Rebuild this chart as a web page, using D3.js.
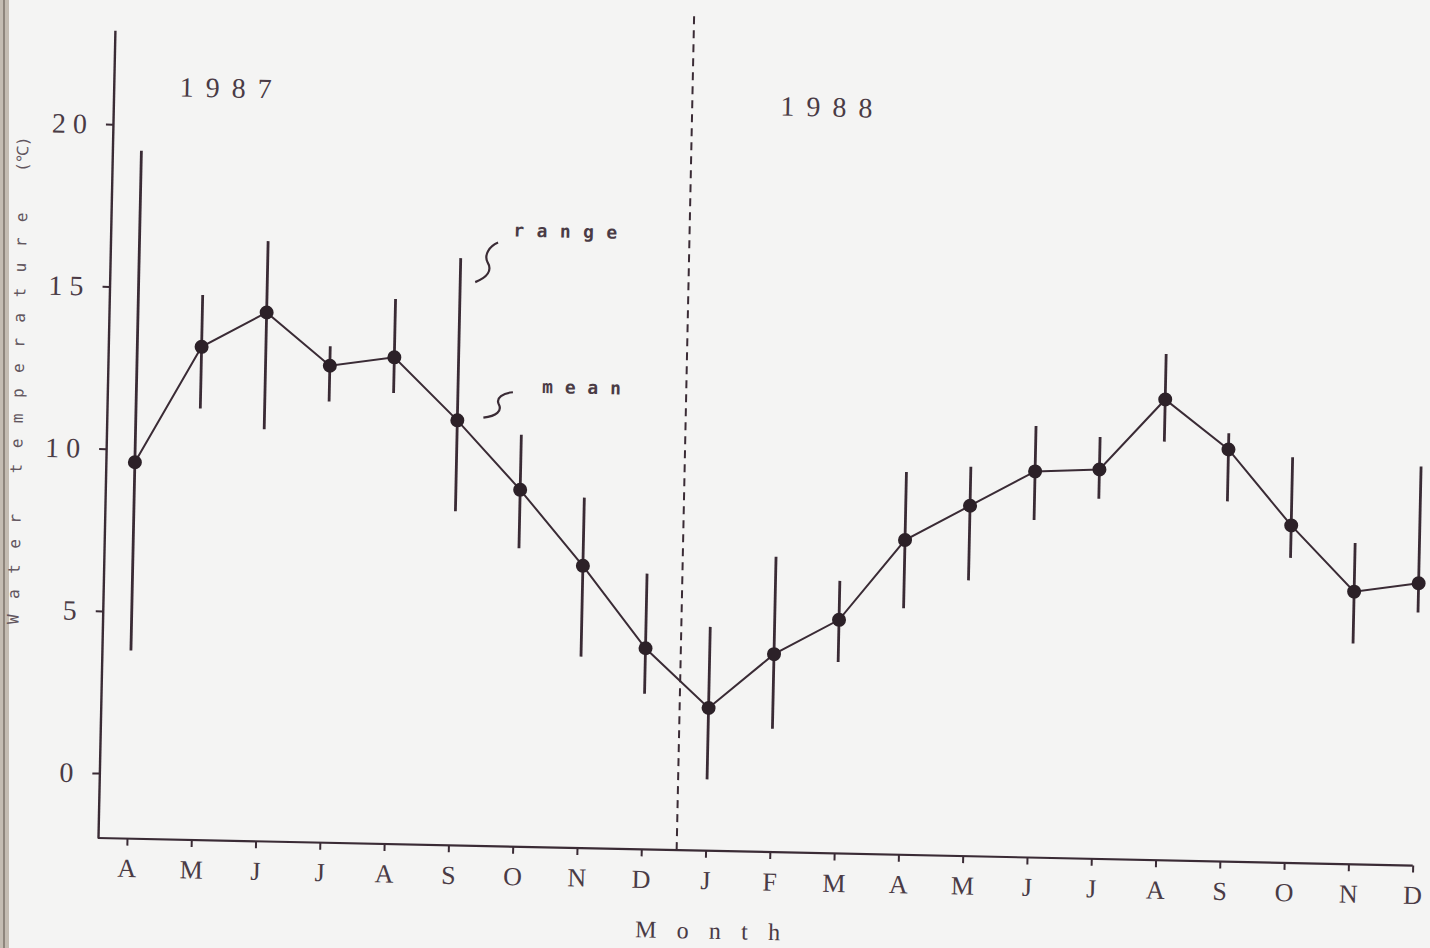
<!DOCTYPE html>
<html>
<head>
<meta charset="utf-8">
<script src="https://cdn.jsdelivr.net/npm/d3@7"></script>
<style>
  body { margin: 0; background: #f4f4f3; }
  svg { display: block; }
</style>
</head>
<body>
<script>

// months, April 1987 .. December 1988
var months = ["A","M","J","J","A","S","O","N","D","J","F","M","A","M","J","J","A","S","O","N","D"];

// monthly water temperature (deg C)
var means = [9.6, 13.2, 14.3, 12.7, 13.0, 11.1, 9.0, 6.7, 4.2, 2.4, 4.1, 5.2, 7.7, 8.8, 9.9, 10.0, 12.2, 10.7, 8.4, 6.4, 6.7];
var maxs  = [19.2, 14.8, 16.5, 13.3, 14.8, 16.1, 10.7, 8.8, 6.5, 4.9, 7.1, 6.4, 9.8, 10.0, 11.3, 11.0, 13.6, 11.2, 10.5, 7.9, 10.3];
var mins  = [3.8, 11.3, 10.7, 11.6, 11.9, 8.3, 7.2, 3.9, 2.8, 0.2, 1.8, 3.9, 5.6, 6.5, 8.4, 9.1, 10.9, 9.1, 7.4, 4.8, 5.8];

var yTicks = [0, 5, 10, 15, 20];
var years = ["1987", "1988"];

var ink = "#3a2b35";
var textInk = "#4a3b45";

var svg = d3.select("body").append("svg")
	.attr("width", 1430)
	.attr("height", 948);

svg.append("rect").attr("width", 1430).attr("height", 948).attr("fill", "#f4f4f3");

// scanned page edge on the left
svg.append("rect").attr("x", 0).attr("y", 0).attr("width", 9).attr("height", 948).attr("fill", "#c4bcb2");
svg.append("line").attr("x1", 4).attr("x2", 4).attr("y1", 0).attr("y2", 948)
	.attr("stroke", "#8e857c").attr("stroke-width", 2);

// the scan is tilted a bit, so the whole plot is too
var g = svg.append("g").attr("transform", "translate(98,838) rotate(1.2)");

var x = d3.scalePoint().domain(d3.range(months.length)).range([29, 1315]);
var y = d3.scaleLinear().domain([-2, 22.9]).range([0, -808]);

// Axes

var xAxis = g.append("g")
	.call(d3.axisBottom(x).tickSize(7).tickPadding(13).tickSizeOuter(0)
		.tickFormat(function (i) { return months[i]; }));

xAxis.select(".domain").remove();
xAxis.append("line")
	.attr("x1", 0).attr("x2", x(months.length - 1))
	.attr("stroke", ink).attr("stroke-width", 2.2);

xAxis.selectAll(".tick line").attr("stroke", ink).attr("stroke-width", 2);
xAxis.selectAll(".tick text")
	.attr("fill", textInk)
	.style("font-family", "Liberation Serif")
	.style("font-size", "26px");

var yAxis = g.append("g")
	.call(d3.axisLeft(y).tickValues(yTicks).tickSize(7).tickPadding(12).tickSizeOuter(0));

yAxis.select(".domain").attr("stroke", ink).attr("stroke-width", 2.4);
yAxis.selectAll(".tick line").attr("stroke", ink).attr("stroke-width", 2);
yAxis.selectAll(".tick text")
	.attr("fill", textInk)
	.style("font-family", "Liberation Serif")
	.style("font-size", "28px")
	.style("letter-spacing", "7px");

// Year divider

var divX = x(8) + (x(9) - x(8)) * 0.55;

g.append("line")
	.attr("x1", divX).attr("x2", divX)
	.attr("y1", y(-2)).attr("y2", y(23.8))
	.attr("stroke", ink)
	.attr("stroke-width", 2)
	.attr("stroke-dasharray", "8,6");

// Data

g.selectAll("line.range")
	.data(d3.range(months.length))
	.enter().append("line")
	.attr("class", "range")
	.attr("x1", function (i) { return x(i); })
	.attr("x2", function (i) { return x(i); })
	.attr("y1", function (i) { return y(mins[i]); })
	.attr("y2", function (i) { return y(maxs[i]); })
	.attr("stroke", ink)
	.attr("stroke-width", 2.8);

var line = d3.line()
	.x(function (d, i) { return x(i); })
	.y(function (d) { return y(d); });

g.append("path")
	.datum(means)
	.attr("d", line)
	.attr("fill", "none")
	.attr("stroke", ink)
	.attr("stroke-width", 2);

g.selectAll("circle.mean")
	.data(means)
	.enter().append("circle")
	.attr("class", "mean")
	.attr("cx", function (d, i) { return x(i); })
	.attr("cy", function (d) { return y(d); })
	.attr("r", 7)
	.attr("fill", "#2c2128");

// Labels

g.append("text")
	.attr("x", x(0) + 37).attr("y", y(20.9))
	.attr("fill", textInk)
	.style("font-family", "Liberation Serif")
	.style("font-size", "28px")
	.style("letter-spacing", "12px")
	.text(years[0]);

g.append("text")
	.attr("x", x(10) - 5).attr("y", y(20.7))
	.attr("fill", textInk)
	.style("font-family", "Liberation Serif")
	.style("font-size", "28px")
	.style("letter-spacing", "12px")
	.text(years[1]);

// range / mean key next to September
g.append("path")
	.attr("transform", "translate(" + (x(5) + 15) + "," + y(15.37) + ")")
	.attr("d", "M0,0 C12,-5 17,-12 12,-20 C8,-27 13,-36 22,-40")
	.attr("fill", "none").attr("stroke", ink).attr("stroke-width", 2.2);

g.append("path")
	.attr("transform", "translate(" + (x(5) + 26) + "," + y(11.2) + ")")
	.attr("d", "M0,0 C13,-2 19,-7 15,-14 C12,-20 19,-25 29,-26")
	.attr("fill", "none").attr("stroke", ink).attr("stroke-width", 2.2);

g.append("text")
	.attr("x", x(5) + 52).attr("y", y(16.8))
	.attr("fill", textInk)
	.style("font-family", "DejaVu Sans Mono")
	.style("font-weight", "bold")
	.style("font-size", "18px")
	.attr("textLength", 104)
	.attr("lengthAdjust", "spacing")
	.text("range");

g.append("text")
	.attr("x", x(5) + 84).attr("y", y(12.0))
	.attr("fill", textInk)
	.style("font-family", "DejaVu Sans Mono")
	.style("font-weight", "bold")
	.style("font-size", "18px")
	.attr("textLength", 79)
	.attr("lengthAdjust", "spacing")
	.text("mean");

// axis titles
g.append("text")
	.attr("x", 539).attr("y", 88)
	.attr("fill", textInk)
	.style("font-family", "Liberation Serif")
	.style("font-size", "24px")
	.attr("textLength", 145)
	.attr("lengthAdjust", "spacing")
	.text("Month");

var yTitle = g.append("text")
	.attr("transform", "translate(-84," + y(12.05) + ") rotate(-90)")
	.attr("text-anchor", "middle")
	.attr("fill", "#62565e")
	.style("font-family", "DejaVu Sans Mono")
	.style("font-size", "16px");

yTitle.append("tspan").style("letter-spacing", "15.5px").text("Water temperature ");
yTitle.append("tspan").style("letter-spacing", "0px").text("(\u2103)");

</script>
</body>
</html>
